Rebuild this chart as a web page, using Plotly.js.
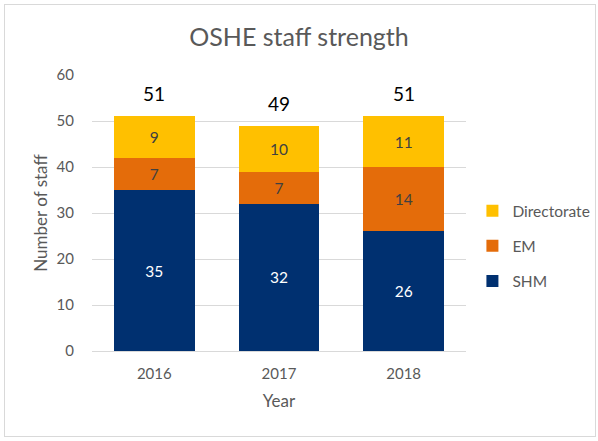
<!DOCTYPE html>
<html>
<head>
<meta charset="utf-8">
<script src="https://cdn.plot.ly/plotly-3.0.1.min.js"></script>
<style>
  html, body { margin: 0; padding: 0; background: #fff; }
  #wrap { position: relative; width: 598px; height: 441px; }
  #chart { width: 598px; height: 441px; }
  #frame { position: absolute; left: 4px; top: 4px; width: 590px; height: 431px; border: 1px solid #d9d9d9; pointer-events: none; }
</style>
</head>
<body>
<div id="wrap"><div id="chart"></div><div id="frame"></div></div>
<script>
const years = ['2016', '2017', '2018'];
const shm = [35, 32, 26];
const em = [7, 7, 14];
const directorate = [9, 10, 11];
const totals = [51, 49, 51];

const FONT = 'Lato, "Open Sans", sans-serif';
const GREY = '#595959';

const series = [
  { name: 'SHM', y: shm, color: '#003070', textColor: '#ffffff', rank: 3 },
  { name: 'EM', y: em, color: '#E46C0A', textColor: '#404040', rank: 2 },
  { name: 'Directorate', y: directorate, color: '#FFC000', textColor: '#404040', rank: 1 }
];
const traces = series.map(s => ({
  type: 'bar',
  name: s.name,
  legendgroup: s.name,
  legendrank: s.rank,
  x: years,
  y: s.y,
  marker: { color: s.color },
  text: s.y.map(String),
  textposition: 'inside',
  insidetextanchor: 'middle',
  textangle: 0,
  textfont: { family: FONT, size: 15.5, color: s.textColor }
}));

const annotations = years.map((yr, i) => ({
  x: i, y: totals[i], xref: 'x', yref: 'y',
  text: String(totals[i]),
  showarrow: false,
  yanchor: 'bottom',
  yshift: 9,
  font: { family: FONT, size: 19, color: '#000000' }
}));

const layout = {
  width: 598, height: 441,
  margin: { l: 92, r: 132, t: 75, b: 90, autoexpand: false },
  paper_bgcolor: '#ffffff', plot_bgcolor: '#ffffff',
  barmode: 'stack',
  bargap: 0.355,
  font: { family: FONT, color: GREY, size: 15 },
  title: { text: 'OSHE staff strength', x: 0.5, xanchor: 'center', y: 0.915, yanchor: 'middle', font: { family: FONT, size: 25, color: GREY } },
  xaxis: {
    type: 'category',
    range: [-0.5, 2.5],
    showgrid: false, zeroline: false,
    showline: false,
    ticks: 'outside', ticklen: 9, tickcolor: 'rgba(0,0,0,0)',
    tickfont: { family: FONT, size: 15, color: GREY },
    title: { text: 'Year', font: { family: FONT, size: 17, color: GREY }, standoff: 14 }
  },
  yaxis: {
    range: [0, 60], dtick: 10,
    showgrid: true, gridcolor: '#d9d9d9', gridwidth: 1,
    zeroline: true, zerolinecolor: '#d9d9d9', zerolinewidth: 1,
    showline: false,
    ticks: 'outside', ticklen: 14, tickcolor: 'rgba(0,0,0,0)',
    tickfont: { family: FONT, size: 15, color: GREY },
    title: { text: 'Number of staff', font: { family: FONT, size: 17, color: GREY }, standoff: 4 }
  },
  legend: {
    xref: 'container', x: 0.79, xanchor: 'left',
    y: 0.38, yanchor: 'middle',
    font: { family: FONT, size: 15.5, color: GREY },
    traceorder: 'grouped',
    tracegroupgap: 12,
    itemwidth: 30
  },
  annotations: annotations,
  showlegend: true
};

Plotly.newPlot('chart', traces, layout, { displayModeBar: false });
</script>
</body>
</html>
